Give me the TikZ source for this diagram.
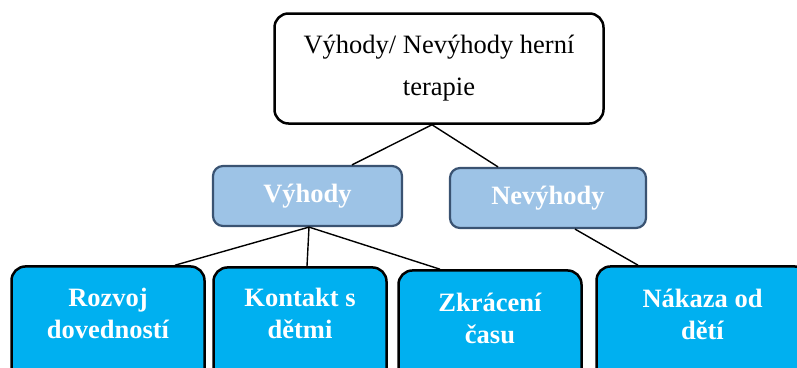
\documentclass[tikz,border=0pt]{standalone}
\usepackage{fontspec}
\setmainfont{Liberation Serif}
\definecolor{leaffill}{HTML}{00B0F0}
\definecolor{midfill}{HTML}{9DC3E6}
\definecolor{midborder}{HTML}{3A5372}
\begin{document}
\begin{tikzpicture}[x=1pt,y=-1pt,
  topbox/.style={draw=black, line width=2.5pt, rounded corners=14pt, fill=white, align=center,
    minimum width=329pt, minimum height=110pt, inner sep=0pt, font=\fontsize{26.5}{42}\selectfont},
  midbox/.style={draw=midborder, line width=2.2pt, fill=midfill, rounded corners=10pt, text=white,
    minimum height=60pt, inner sep=0pt, font=\fontsize{26.5}{30}\selectfont\bfseries},
  leafbox/.style={draw=black, line width=2.5pt, fill=leaffill, rounded corners=14pt,
    anchor=north, minimum height=150pt, inner sep=0pt},
  leaftext/.style={text=white, align=center, inner sep=0pt, font=\fontsize{26.5}{32}\selectfont\bfseries},
  conn/.style={line width=1.4pt, draw=black}]
\useasboundingbox (0,0) rectangle (797,367);
\clip (0,0) rectangle (797,367);

\node[topbox] (top) at (439,68.5) {Výhody/ Nevýhody herní\\terapie};
\node[midbox, minimum width=189pt] (vy) at (307.5,196) {Výhody};
\node[midbox, minimum width=196pt] (nev) at (548,198) {Nevýhody};

\node[leafbox, minimum width=193pt] (roz) at (108,265.2) {};
\node[leafbox, minimum width=173pt] (kon) at (300,266.2) {};
\node[leafbox, minimum width=183pt] (zkr) at (490,269.2) {};
\node[leafbox, minimum width=212pt] (nak) at (702.5,265.2) {};

\node[leaftext] (rozt) at (108,313) {Rozvoj\\dovedností};
\node[leaftext] (kont) at (300,313) {Kontakt s\\dětmi};
\node[leaftext] (zkrt) at (490,318) {Zkrácení\\času};
\node[leaftext] (nakt) at (702.5,314) {Nákaza od\\dětí};

\draw[conn] ([xshift=-7pt]top.south) -- ([xshift=44.5pt]vy.north);
\draw[conn] ([xshift=-7pt]top.south) -- ([xshift=-50pt]nev.north);
\draw[conn] ([xshift=1.5pt]vy.south) -- ([xshift=67pt]roz.north);
\draw[conn] ([xshift=1.5pt]vy.south) -- ([xshift=7pt]kon.north);
\draw[conn] ([xshift=1.5pt]vy.south) -- ([xshift=-50pt]zkr.north);
\draw[conn] ([xshift=27pt]nev.south) -- ([xshift=-64.5pt]nak.north);
\end{tikzpicture}
\end{document}
